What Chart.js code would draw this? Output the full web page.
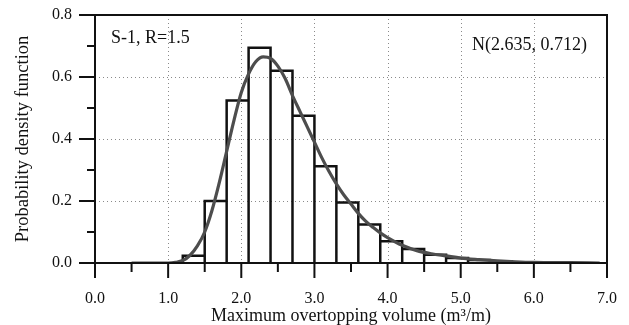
<!DOCTYPE html>
<html>
<head>
<meta charset="utf-8">
<script src="https://cdn.jsdelivr.net/npm/chart.js@4.4.1/dist/chart.umd.min.js"></script>
<style>
  html, body { margin: 0; padding: 0; background: #fff; }
  #wrap { width: 629px; height: 325px; position: relative; }
</style>
</head>
<body>
<div id="wrap"><canvas id="myChart"></canvas></div>
<script>
//
// data
//
const binEdges = [1.2, 1.5, 1.8, 2.1, 2.4, 2.7, 3.0, 3.3, 3.6, 3.9, 4.2, 4.5, 4.8, 5.1, 5.4, 5.7];
const binHeights = [0.023, 0.200, 0.524, 0.694, 0.620, 0.475, 0.312, 0.195, 0.124, 0.070, 0.045, 0.027, 0.016, 0.010, 0.005];

const curveX = [0.5, 1.0, 1.1, 1.2, 1.3, 1.4, 1.5, 1.6, 1.7, 1.8, 1.9, 2.0, 2.1, 2.2, 2.3, 2.4, 2.5, 2.6, 2.7, 2.8, 2.9, 3.0,
    3.1, 3.2, 3.3, 3.4, 3.5, 3.6, 3.7, 3.8, 3.9, 4.0, 4.2, 4.4, 4.6, 4.8, 5.0, 5.25, 5.5, 5.75, 6.0, 6.5, 6.9];
const curveY = [0.000, 0.000, 0.002, 0.008, 0.025, 0.055, 0.100, 0.170, 0.260, 0.360, 0.460, 0.550, 0.610, 0.650, 0.665, 0.660, 0.635, 0.595, 0.540, 0.490, 0.440, 0.390,
    0.340, 0.295, 0.255, 0.220, 0.190, 0.160, 0.135, 0.115, 0.097, 0.082, 0.057, 0.040, 0.030, 0.023, 0.016, 0.011, 0.007, 0.004, 0.002, 0.001, 0.000];

const xTicks = [0, 1, 2, 3, 4, 5, 6, 7];
const yTicks = [0, 0.2, 0.4, 0.6, 0.8];

const fitLabel = 'N(2.635, 0.712)';
const caseLabel = 'S-1, R=1.5';

//
// histogram outline as one path: up, across, down for every bin
//
let histPoints = [];
for (let i = 0; i < binHeights.length; i++) {
    histPoints.push({ x: binEdges[i], y: 0 });
    histPoints.push({ x: binEdges[i], y: binHeights[i] });
    histPoints.push({ x: binEdges[i + 1], y: binHeights[i] });
    histPoints.push({ x: binEdges[i + 1], y: 0 });
}

let curvePoints = curveX.map((x, i) => ({ x: x, y: curveY[i] }));

const serif = "'Liberation Serif', 'Times New Roman', serif";

//
// grid, frame, ticks and the two notes
//
const decorPlugin = {
    id: 'decor',
    beforeDatasetsDraw(chart) {
        const { ctx, chartArea: a, scales: { x, y } } = chart;
        ctx.save();
        ctx.strokeStyle = '#8a8a8a';
        ctx.lineWidth = 1;
        ctx.setLineDash([1, 3]);
        xTicks.slice(1, -1).forEach(v => {
            const px = Math.round(x.getPixelForValue(v)) + 0.5;
            ctx.beginPath(); ctx.moveTo(px, a.top); ctx.lineTo(px, a.bottom); ctx.stroke();
        });
        yTicks.slice(1, -1).forEach(v => {
            const py = Math.round(y.getPixelForValue(v)) + 0.5;
            ctx.beginPath(); ctx.moveTo(a.left, py); ctx.lineTo(a.right, py); ctx.stroke();
        });
        ctx.restore();
    },
    afterDatasetsDraw(chart) {
        const { ctx, chartArea: a, scales: { x, y } } = chart;
        ctx.save();
        ctx.strokeStyle = '#111';
        ctx.lineWidth = 2;
        ctx.strokeRect(a.left, a.top, a.right - a.left, a.bottom - a.top);

        // x ticks, major every 1.0, minor every 0.5
        for (let v = 0; v <= 7.001; v += 0.5) {
            const px = x.getPixelForValue(v);
            const major = Math.abs(v - Math.round(v)) < 0.01;
            ctx.beginPath(); ctx.moveTo(px, a.bottom); ctx.lineTo(px, a.bottom + (major ? 15 : 9)); ctx.stroke();
        }
        // y ticks, major every 0.2, minor every 0.1
        for (let i = 0; i <= 8; i++) {
            const py = y.getPixelForValue(i / 10);
            const major = i % 2 == 0;
            ctx.beginPath(); ctx.moveTo(a.left, py); ctx.lineTo(a.left - (major ? 16 : 8), py); ctx.stroke();
        }

        ctx.fillStyle = '#111';
        ctx.font = '18px ' + serif;
        ctx.textBaseline = 'middle';
        ctx.textAlign = 'left';
        ctx.fillText(caseLabel, a.left + 16, 38);
        ctx.textAlign = 'right';
        ctx.fillText(fitLabel, a.right - 20, 45);
        ctx.restore();
    }
};

var myChart = new Chart(document.getElementById('myChart').getContext('2d'), {
    type: 'line',
    data: {
        datasets: [{
                label: 'histogram',
                data: histPoints,
                borderColor: '#111',
                borderWidth: 2.5,
                pointRadius: 0,
                tension: 0,
                fill: false,
                order: 2,
            },
            {
                label: 'pdf',
                data: curvePoints,
                borderColor: '#4d4d4d',
                borderWidth: 3.2,
                pointRadius: 0,
                cubicInterpolationMode: 'monotone',
                fill: false,
                order: 1,
            },
        ]
    },
    options: {
        responsive: true,
        maintainAspectRatio: false,
        animation: false,
        events: [],
        layout: {
            padding: { left: 0, top: 15, right: 22, bottom: 0 },
        },
        plugins: {
            legend: { display: false },
            tooltip: { enabled: false },
        },
        scales: {
            x: {
                type: 'linear',
                min: 0,
                max: 7,
                afterBuildTicks: (scale) => { scale.ticks = xTicks.map(v => ({ value: v })); },
                afterFit: (scale) => {
                    scale.height = 62;
                    scale.paddingLeft = 0;
                    scale.paddingRight = 0;
                },
                grid: { display: false, drawTicks: false },
                border: { display: false },
                ticks: {
                    padding: 26,
                    color: '#111',
                    font: { family: serif, size: 16 },
                    callback: (v) => v.toFixed(1),
                },
                title: {
                    display: true,
                    text: 'Maximum overtopping volume (m³/m)',
                    color: '#111',
                    font: { family: serif, size: 18, lineHeight: 1.0 },
                    padding: { top: 0, bottom: 0 },
                },
            },
            y: {
                type: 'linear',
                min: 0,
                max: 0.8,
                afterBuildTicks: (scale) => { scale.ticks = yTicks.map(v => ({ value: v })); },
                afterFit: (scale) => {
                    scale.width = 95;
                    scale.paddingTop = 0;
                    scale.paddingBottom = 0;
                },
                grid: { display: false, drawTicks: false },
                border: { display: false },
                ticks: {
                    padding: 23,
                    color: '#111',
                    font: { family: serif, size: 16 },
                    callback: (v) => v.toFixed(1),
                },
                title: {
                    display: true,
                    text: 'Probability density function',
                    color: '#111',
                    font: { family: serif, size: 18.5, lineHeight: 1.0 },
                    padding: { top: 14, bottom: 0 },
                },
            },
        },
    },
    plugins: [decorPlugin],
});
</script>
</body>
</html>
